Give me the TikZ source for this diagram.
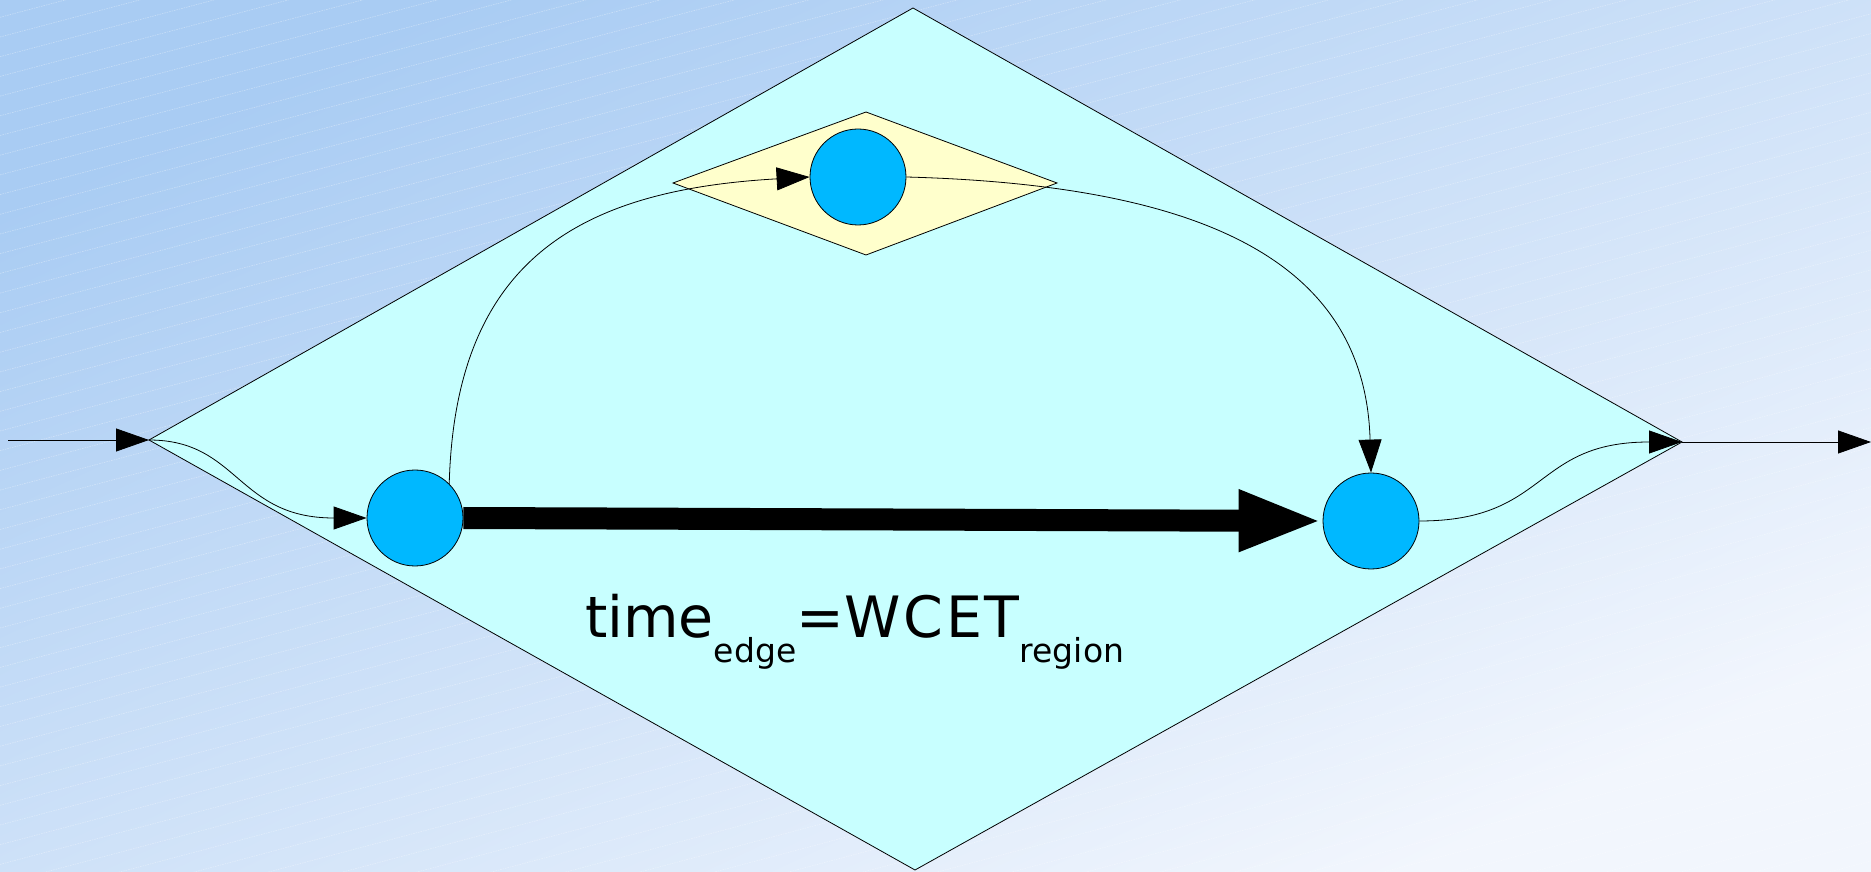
\documentclass[tikz,border=0pt]{standalone}
\usepackage{fontspec}
\setmainfont{DejaVu Sans}
\usepackage{tikz}
\usetikzlibrary{arrows.meta,calc}
\definecolor{bgtop}{HTML}{A9CCF3}
\definecolor{bgbot}{HTML}{F2F6FD}
\definecolor{regioncol}{HTML}{C8FFFF}
\definecolor{innercol}{HTML}{FFFFCC}
\definecolor{bbcol}{HTML}{00B8FF}
\tikzset{>={Triangle[length=33pt,width=23pt]}}
\tikzset{bb/.style={circle, draw=black, fill=bbcol, minimum size=96pt,
    inner sep=0pt, line width=0.8pt},
  flow/.style={->, line width=0.8pt},
  outline/.style={draw=black, line width=0.8pt}}

\begin{document}
\begin{tikzpicture}[x=1pt,y=1pt]
  \useasboundingbox (0,0) rectangle (1871,871);
  % background
  \shade[top color=bgtop, bottom color=bgbot, shading angle=25] (0,0) rectangle (1871,871);
  \begin{scope}
    \clip (0,0) rectangle (1871,871);
    \foreach \k in {0,...,69}
      \draw[white, opacity=0.35, line width=0.6pt, dash pattern=on 1.5pt off 1pt]
        (0,{853.7-\k*19.7}) -- ++(1871,496);
  \end{scope}
  \coordinate (src) at (8,431);
  \coordinate (rin) at (149,431);
  \coordinate (rout) at (1682,429);
  \coordinate (sink) at (1871,429);
  % region and inner region
  \filldraw[outline, fill=regioncol] (913,863) -- (rout) -- (915,1) -- (rin) -- cycle;
  \filldraw[outline, fill=innercol] (673,688) -- (866,759) -- (1057,688) -- (866,616) -- cycle;
  % basic blocks
  \node[bb] (lc) at (415,353) {};
  \node[bb] (tc) at (858,694) {};
  \node[bb] (rc) at (1371,350) {};
  % edges
  \draw[flow] (src) -- (rin);
  \draw[flow] (rin) .. controls +(90,0) and +(-130,0) .. (lc.west);
  \draw[flow] (lc.45) .. controls +(6,224) and +(-230,-13) .. (tc.west);
  \draw[flow] (tc.east) .. controls +(294,-8) and +(-6,213) .. (rc.north);
  \draw[flow] (rc.east) .. controls +(130,0) and +(-150,0) .. (rout);
  \draw[flow] (rout) -- (sink);
  \draw[line width=22pt, -{Triangle[length=84pt,width=56pt]}] (lc.east) -- (rc.west);
  \node[anchor=base west, inner sep=0pt] (lbl) at (585,234)
    {\fontsize{57}{60}\selectfont time\raisebox{-25pt}{\fontsize{33}{36}\selectfont edge}={\addfontfeatures{LetterSpace=5}WCET}\raisebox{-25pt}{\fontsize{33}{36}\selectfont region}};
\end{tikzpicture}
\end{document}
